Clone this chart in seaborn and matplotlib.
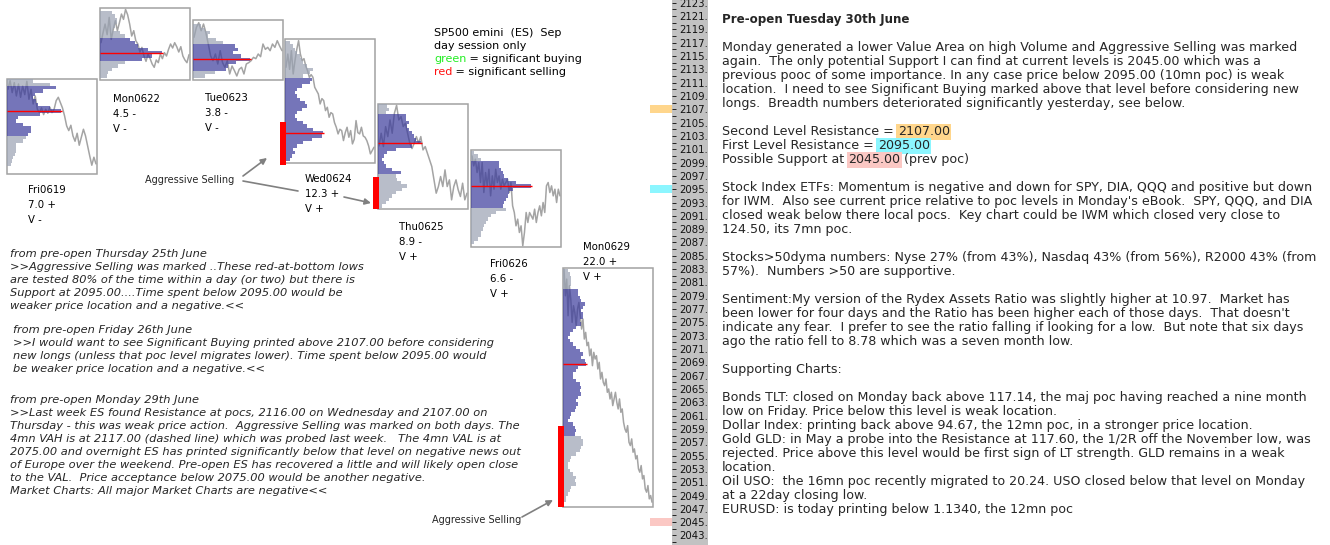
import numpy as np
import matplotlib
matplotlib.use("Agg")
import matplotlib.pyplot as plt
from matplotlib.patches import Rectangle
import seaborn as sns

# ---------------- data ----------------
days = ["Fri0619", "Mon0622", "Tue0623", "Wed0624", "Thu0625", "Fri0626", "Mon0629"]
day_range = ["7.0 +", "4.5 -", "3.8 -", "12.3 +", "8.9 -", "6.6 -", "22.0 +"]
day_volume = ["V -", "V -", "V -", "V +", "V +", "V +", "V +"]
day_high = [2111.5, 2122.2, 2120.4, 2117.5, 2107.8, 2100.9, 2083.1]
day_low = [2097.3, 2111.4, 2111.4, 2099.0, 2092.0, 2086.3, 2047.3]

# volume profiles: one value per 0.5 pt row, top row first
profile_top = [2111.25, 2121.5, 2119.5, 2117.0, 2107.5, 2100.5, 2082.75]
vol_fri0619 = [26, 43, 49, 36, 28, 26, 29, 31, 43, 54, 33, 11, 9, 16, 24, 24, 21,
               19, 16, 9, 9, 9, 8, 6, 5, 4]
vol_mon0622 = [12, 15, 17, 17, 15, 13, 20, 25, 30, 35, 38, 48, 62, 52, 42, 25, 18, 12, 8, 7]
vol_tue0623 = [8, 12, 17, 15, 23, 30, 42, 45, 40, 48, 57, 43, 35, 33, 22, 12]
vol_wed0624 = [5, 8, 10, 12, 15, 17, 18, 22, 28, 25, 18, 27, 25, 17, 12, 10, 12, 15,
               20, 22, 17, 12, 10, 12, 18, 22, 28, 38, 37, 27, 18, 12, 8, 10, 7, 5]
vol_thu0625 = [9, 11, 8, 28, 28, 31, 29, 31, 34, 36, 38, 43, 34, 18, 9, 6, 4, 6, 8, 14,
               23, 18, 19, 23, 29, 24, 18, 14, 11, 8, 4]
vol_fri0626 = [3, 7, 10, 28, 28, 30, 32, 33, 37, 45, 60, 42, 38, 37, 35, 33, 32, 35,
               25, 20, 17, 15, 13, 12, 10, 10, 7, 3]
vol_mon0629 = [5, 7, 8, 8, 8, 7, 15, 15, 17, 18, 22, 20, 18, 20, 20, 17, 18, 13, 10, 7,
               5, 7, 10, 13, 17, 20, 18, 22, 23, 15, 13, 10, 10, 13, 17, 18, 17, 18, 15,
               13, 15, 13, 12, 8, 7, 5, 10, 12, 13, 12, 18, 20, 20, 18, 17, 13, 8, 7, 5,
               5, 7, 10, 13, 12, 13, 8, 7, 5, 3, 3]
# value area rows (first, last) in each profile
va_first = [2, 8, 6, 11, 3, 3, 6]
va_last = [16, 14, 13, 35, 20, 16, 49]

# price traces, evenly spaced in time across the session
px_fri0619 = [2110.0, 2111.3, 2109.5, 2111.0, 2109.0, 2110.8, 2108.8, 2110.5, 2109.2, 2111.2,
              2108.5, 2110.0, 2107.8, 2109.0, 2107.0, 2106.5, 2107.2, 2106.2, 2107.0, 2106.4,
              2107.3, 2106.5, 2107.0, 2108.3, 2108.8, 2108.0, 2107.2, 2106.0, 2104.5, 2103.8,
              2104.6, 2103.0, 2102.2, 2103.4, 2101.6, 2102.8, 2104.0, 2103.0, 2101.5, 2100.0,
              2098.6, 2099.8, 2098.8]
px_mon0622 = [2117.0, 2118.5, 2119.8, 2118.2, 2120.8, 2117.5, 2119.0, 2120.3, 2118.8, 2120.0,
              2121.3, 2120.5, 2122.0, 2121.2, 2119.8, 2118.0, 2118.8, 2117.3, 2116.8, 2115.6,
              2116.3, 2115.0, 2114.2, 2115.3, 2114.6, 2113.8, 2113.3, 2114.4, 2114.0, 2115.3,
              2114.6, 2115.5, 2115.0, 2116.0, 2116.8, 2116.2, 2117.0, 2116.4, 2115.6, 2116.4,
              2115.0, 2114.4, 2114.0, 2115.2]
px_tue0623 = [2117.8, 2119.3, 2120.0, 2118.8, 2119.8, 2118.5, 2116.8, 2115.0, 2114.3, 2115.3,
              2113.8, 2115.8, 2114.0, 2113.3, 2114.3, 2112.3, 2113.5, 2112.8, 2112.0, 2113.0,
              2113.3, 2112.3, 2113.8, 2114.0, 2114.3, 2114.8, 2114.6, 2115.3, 2114.9, 2116.8,
              2116.0, 2116.3, 2115.8, 2116.8, 2116.3, 2117.3, 2116.5, 2115.8]
px_wed0624 = [2113.3, 2115.3, 2113.0, 2115.8, 2112.3, 2114.3, 2116.0, 2117.3, 2115.3, 2114.3,
              2114.6, 2113.5, 2112.8, 2111.8, 2112.2, 2111.8, 2110.3, 2109.8, 2109.3, 2107.8,
              2108.6, 2108.3, 2106.8, 2107.3, 2105.8, 2106.5, 2106.3, 2105.0, 2104.3, 2103.3,
              2104.0, 2103.8, 2102.3, 2103.5, 2104.3, 2102.8, 2103.8, 2101.8, 2102.5, 2105.3,
              2103.5, 2103.3, 2104.3, 2103.0, 2102.8, 2102.3, 2101.5, 2100.3, 2100.8, 2101.3]
px_thu0625 = [2101.5, 2103.4, 2101.4, 2104.4, 2102.9, 2105.4, 2103.4, 2106.4, 2107.6, 2105.4,
              2105.9, 2104.4, 2104.9, 2103.4, 2101.9, 2101.1, 2101.9, 2102.9, 2101.9, 2102.9,
              2100.9, 2101.4, 2100.4, 2099.4, 2098.4, 2096.4, 2094.4, 2095.4, 2096.9, 2095.4,
              2097.9, 2095.4, 2096.4, 2093.4, 2095.4, 2096.4, 2094.9, 2093.9, 2095.9, 2093.4,
              2094.4]
px_fri0626 = [2100.0, 2098.5, 2099.5, 2097.5, 2099.0, 2096.0, 2099.0, 2094.5, 2097.5, 2095.5,
              2098.0, 2094.0, 2097.0, 2095.0, 2098.0, 2096.0, 2097.0, 2095.0, 2096.5, 2095.5,
              2096.0, 2096.5, 2094.5, 2096.0, 2092.5, 2091.5, 2089.5, 2090.5, 2088.5, 2089.5,
              2086.5, 2088.5, 2091.5, 2090.0, 2091.5, 2091.0, 2090.5, 2092.0, 2090.0, 2091.5,
              2092.5, 2091.0, 2093.0, 2091.5, 2095.5, 2096.0, 2094.5, 2095.5, 2094.0, 2095.0,
              2093.0, 2095.0, 2094.0]
px_mon0629 = [2083.0, 2079.0, 2081.5, 2076.0, 2080.5, 2078.5, 2075.0, 2077.5, 2076.5, 2074.5,
              2077.0, 2078.0, 2076.0, 2074.0, 2075.5, 2072.5, 2073.5, 2071.5, 2072.0, 2070.0,
              2071.0, 2068.5, 2070.5, 2069.5, 2070.0, 2068.0, 2069.0, 2066.5, 2067.5, 2066.0,
              2065.5, 2066.5, 2064.5, 2065.0, 2063.5, 2064.5, 2062.5, 2063.5, 2064.5, 2063.0,
              2062.0, 2063.5, 2061.5, 2062.0, 2060.0, 2059.0, 2058.5, 2059.5, 2057.0, 2056.5,
              2057.5, 2055.5, 2056.0, 2054.5, 2055.0, 2053.0, 2052.5, 2053.5, 2051.5, 2052.0,
              2050.0, 2049.5, 2050.5, 2048.5, 2049.0, 2048.0]

# aggressive selling marks
sell_days = ["Wed0624", "Thu0625", "Mon0629"]
sell_high = [2105.1, 2096.8, 2059.4]
sell_low = [2098.6, 2092.0, 2047.3]

# key levels
level_names = ["Second Level Resistance = ", "First Level Resistance = ", "Possible Support at "]
level_prices = [2107.00, 2095.00, 2045.00]
level_after = ["", "", " (prev poc)"]
level_colors = ["#ffd68c", "#8cf6ff", "#fbc8c4"]

notes_thu = ["from pre-open Thursday 25th June",
             ">>Aggressive Selling was marked ..These red-at-bottom lows",
             "are tested 80% of the time within a day (or two) but there is",
             "Support at 2095.00....Time spent below 2095.00 would be",
             "weaker price location and a negative.<<"]
notes_fri = ["from pre-open Friday 26th June",
             ">>I would want to see Significant Buying printed above 2107.00 before considering",
             "new longs (unless that poc level migrates lower). Time spent below 2095.00 would",
             "be weaker price location and a negative.<<"]
notes_mon = ["from pre-open Monday 29th June",
             ">>Last week ES found Resistance at pocs, 2116.00 on Wednesday and 2107.00 on",
             "Thursday - this was weak price action.  Aggressive Selling was marked on both days. The",
             "4mn VAH is at 2117.00 (dashed line) which was probed last week.   The 4mn VAL is at",
             "2075.00 and overnight ES has printed significantly below that level on negative news out",
             "of Europe over the weekend. Pre-open ES has recovered a little and will likely open close",
             "to the VAL.  Price acceptance below 2075.00 would be another negative.",
             "Market Charts: All major Market Charts are negative<<"]

title = "Pre-open Tuesday 30th June"
report = [
    "Monday generated a lower Value Area on high Volume and Aggressive Selling was marked",
    "again.  The only potential Support I can find at current levels is 2045.00 which was a",
    "previous pooc of some importance. In any case price below 2095.00 (10mn poc) is weak",
    "location.  I need to see Significant Buying marked above that level before considering new",
    "longs.  Breadth numbers deteriorated significantly yesterday, see below.",
    "", "LEVEL", "LEVEL", "LEVEL", "",
    "Stock Index ETFs: Momentum is negative and down for SPY, DIA, QQQ and positive but down",
    "for IWM.  Also see current price relative to poc levels in Monday's eBook.  SPY, QQQ, and DIA",
    "closed weak below there local pocs.  Key chart could be IWM which closed very close to",
    "124.50, its 7mn poc.",
    "",
    "Stocks>50dyma numbers: Nyse 27% (from 43%), Nasdaq 43% (from 56%), R2000 43% (from",
    "57%).  Numbers >50 are supportive.",
    "",
    "Sentiment:My version of the Rydex Assets Ratio was slightly higher at 10.97.  Market has",
    "been lower for four days and the Ratio has been higher each of those days.  That doesn't",
    "indicate any fear.  I prefer to see the ratio falling if looking for a low.  But note that six days",
    "ago the ratio fell to 8.78 which was a seven month low.",
    "",
    "Supporting Charts:",
    "",
    "Bonds TLT: closed on Monday back above 117.14, the maj poc having reached a nine month",
    "low on Friday. Price below this level is weak location.",
    "Dollar Index: printing back above 94.67, the 12mn poc, in a stronger price location.",
    "Gold GLD: in May a probe into the Resistance at 117.60, the 1/2R off the November low, was",
    "rejected. Price above this level would be first sign of LT strength. GLD remains in a weak",
    "location.",
    "Oil USO:  the 16mn poc recently migrated to 20.24. USO closed below that level on Monday",
    "at a 22day closing low.",
    "EURUSD: is today printing below 1.1340, the 12mn poc",
]

# ---------------- layout (pixels) ----------------
W, H = 1330, 545
AX_R = 672                     # right edge of the chart area
box_x = [7, 100, 193, 285, 378, 471, 563]
BOX_W = 90
label_xy = [(28, 190), (113, 99), (205, 98), (305, 179), (399, 227), (490, 264), (583, 247)]
YLIM = (2041.57, 2123.41)

BLUE = "#3b3b9c"
GREY = "#9aa2b2"
LINE = "#a4a4a4"
ARROW = "#808080"
TXT = 9.05

sns.set_theme(style="white")
plt.rcParams["font.family"] = ["DejaVu Sans"]

fig = plt.figure(figsize=(W / 100, H / 100), dpi=100)
fig.patch.set_facecolor("white")

strip = fig.add_axes([AX_R / W, 0, 36 / W, 1])
strip.set_facecolor("#c2c2c2")
strip.set_xticks([])
strip.set_yticks([])
for s in strip.spines.values():
    s.set_visible(False)
strip.set_zorder(1)

ax = fig.add_axes([0, 0, AX_R / W, 1])
ax.set_zorder(3)
ax.set_facecolor("white")
ax.set_xlim(0, AX_R)
ax.set_ylim(*YLIM)
for s in ax.spines.values():
    s.set_visible(False)
ax.set_xticks([])
ax.yaxis.tick_right()
major = np.arange(2043, 2124, 2)
ax.set_yticks(major)
ax.set_yticklabels([f"{v}." for v in major])
ax.set_yticks(np.arange(2042, 2124, 1), minor=True)
ax.tick_params(axis="y", which="both", direction="out", length=3, width=0.7,
               color="#222222", labelsize=7.3, pad=2, labelcolor="#111111",
               left=False, right=True, labelleft=False, labelright=True)
ax.grid(False)

profiles = [vol_fri0619, vol_mon0622, vol_tue0623, vol_wed0624, vol_thu0625,
            vol_fri0626, vol_mon0629]
traces = [px_fri0619, px_mon0622, px_tue0623, px_wed0624, px_thu0625,
          px_fri0626, px_mon0629]

for i, day in enumerate(days):
    left = box_x[i]
    ax.add_patch(Rectangle((left, day_low[i]), BOX_W, day_high[i] - day_low[i],
                           fill=False, ec="#a2a2a2", lw=1.1, zorder=1))
    tr = traces[i]
    xs = np.linspace(left + 1, left + BOX_W - 1, len(tr))
    sns.lineplot(x=xs, y=tr, ax=ax, color=LINE, lw=1.1, zorder=2,
                 estimator=None, sort=False, legend=False)

    vols = np.asarray(profiles[i], float)
    n = len(vols)
    edges = profile_top[i] + 0.25 - 0.5 * np.arange(n + 1)
    parts = [(0, va_first[i], GREY), (va_first[i], va_last[i] + 1, BLUE),
             (va_last[i] + 1, n, GREY)]
    for a, b, col in parts:
        if b <= a:
            continue
        xv = np.append(vols[a:b], vols[b - 1])
        ax.fill_betweenx(edges[a:b + 1], left, left + xv, step="post",
                         color=col, alpha=0.7, lw=0, zorder=3)
    k = int(np.argmax(vols))
    poc = profile_top[i] - 0.5 * k
    ax.hlines(poc, left, left + vols[k] + 1, color="#ff0000", lw=1.0, zorder=4)

for d, hi, lo in zip(sell_days, sell_high, sell_low):
    left = box_x[days.index(d)]
    ax.bar(left - 2.5, hi - lo, bottom=lo, width=6, color="#ff0000", lw=0, zorder=5)

# key level markers beside the price scale
ax.barh(level_prices, 22, left=650, height=1.25, color=level_colors, lw=0, zorder=5)

# ---------------- text overlay in pixel coordinates ----------------
tx = fig.add_axes([0, 0, 1, 1])
tx.set_xlim(0, W)
tx.set_ylim(H, 0)
tx.axis("off")
tx.set_zorder(6)

for i, day in enumerate(days):
    x, y = label_xy[i]
    for j, s in enumerate([day, day_range[i], day_volume[i]]):
        tx.text(x, y + 15 * j, s, fontsize=7.3, va="center", color="black")

legend_lines = [("", "SP500 emini  (ES)  Sep"), ("", "day session only"),
                ("green", " = significant buying"), ("red", " = significant selling")]
legend_col = {"green": "#22ee22", "red": "#ff1010"}
for j, (word, rest) in enumerate(legend_lines):
    y = 33 + 13 * j
    if word:
        t = tx.text(434, y, word, fontsize=8.0, va="center", color=legend_col[word])
        tx.annotate(rest, xy=(1, 0), xycoords=t, va="bottom", fontsize=8.0, color="black")
    else:
        tx.text(434, y, rest, fontsize=8.0, va="center", color="black")

# aggressive selling call-outs
tx.text(145, 180, "Aggressive Selling", fontsize=7.0, va="center")
tx.text(432, 520, "Aggressive Selling", fontsize=7.0, va="center")
arrow = dict(arrowstyle="-|>", color=ARROW, lw=1.2, mutation_scale=9, shrinkA=0, shrinkB=0)
tx.annotate("", xy=(267, 158), xytext=(243, 176), arrowprops=arrow)
tx.plot([243, 298], [181, 191], color=ARROW, lw=1.2)
tx.annotate("", xy=(371, 203), xytext=(344, 197), arrowprops=arrow)
tx.annotate("", xy=(553, 500), xytext=(522, 517), arrowprops=arrow)

# italic notes on the left
for block, x0, y0 in [(notes_thu, 10, 254), (notes_fri, 13, 330), (notes_mon, 10, 400)]:
    for j, s in enumerate(block):
        tx.text(x0, y0 + 13 * j, s, fontsize=8.2, style="italic", va="center")

# right report panel
tx.text(722, 19.5, title, fontsize=8.6, fontweight="bold", va="center")
lvl = 0
for j, s in enumerate(report):
    y = 47.7 + 14 * j
    if s == "LEVEL":
        t = tx.text(722, y, level_names[lvl], fontsize=TXT, va="center")
        h = tx.annotate(f"{level_prices[lvl]:.2f}", xy=(1, 0), xycoords=t, va="bottom",
                        fontsize=TXT,
                        bbox=dict(boxstyle="square,pad=0.12", fc=level_colors[lvl], ec="none"))
        if level_after[lvl]:
            tx.annotate(level_after[lvl], xy=(1, 0), xycoords=h, va="bottom", fontsize=TXT)
        lvl += 1
    elif s:
        tx.text(722, y, s, fontsize=TXT, va="center")

fig.savefig("out.png", dpi=100)
